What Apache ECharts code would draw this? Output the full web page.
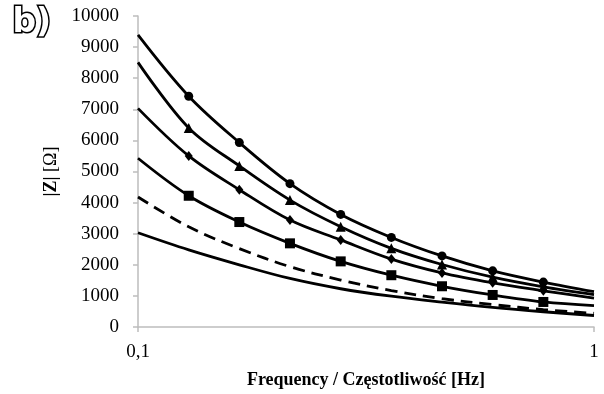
<!DOCTYPE html>
<html>
<head>
<meta charset="utf-8">
<script src="https://cdn.jsdelivr.net/npm/echarts@6/dist/echarts.min.js"></script>
<style>
  html, body { margin: 0; padding: 0; background: #fff; }
  #chart { width: 604px; height: 394px; }
</style>
</head>
<body>
<div id="chart"></div>
<script>
// Frequency points (Hz), log-spaced over one decade
const frequency = [0.1, 0.1292, 0.1668, 0.2154, 0.2783, 0.3594, 0.4642, 0.5995, 0.7743, 1];

// Impedance modulus |Z| in ohms for each curve
const zCircle   = [9390, 7420, 5930, 4610, 3620, 2880, 2285, 1805, 1445, 1135];
const zTriangle = [8510, 6400, 5180, 4080, 3225, 2530, 2010, 1600, 1290, 1040];
const zDiamond  = [7030, 5500, 4415, 3440, 2800, 2185, 1740, 1420, 1165, 930];
const zSquare   = [5425, 4220, 3375, 2690, 2110, 1665, 1310, 1030, 805, 690];
const zDashed   = [4180, 3220, 2520, 1940, 1510, 1170, 910, 720, 560, 440];
const zPlain    = [3030, 2480, 2000, 1560, 1230, 990, 800, 630, 490, 370];

const xTickLabels = { '0.1': '0,1', '1': '1' };
const yTicks = [0, 10000, 1000];

const serif = '"Liberation Serif", "Times New Roman", serif';

function pairs(ys) {
  return frequency.map((f, i) => [f, ys[i]]);
}

function curve(ys, symbol, size, dashed) {
  const last = ys.length - 1;
  return {
    type: 'line',
    data: pairs(ys),
    smooth: 0.35,
    symbol: (v, p) => (p.dataIndex === 0 || p.dataIndex === last) ? 'none' : symbol,
    symbolSize: size,
    showAllSymbol: true,
    lineStyle: { color: '#000', width: 2.8, type: dashed ? [12, 7] : 'solid' },
    itemStyle: { color: '#000' },
    emphasis: { disabled: true },
    animation: false,
    z: 3
  };
}

const chart = echarts.init(document.getElementById('chart'), null, { renderer: 'canvas' });
chart.setOption({
  backgroundColor: '#fff',
  animation: false,
  grid: { left: 138, right: 10, top: 16, bottom: 67, containLabel: false },
  xAxis: {
    type: 'log',
    logBase: 10,
    min: 0.1,
    max: 1,
    name: 'Frequency / Częstotliwość [Hz]',
    nameLocation: 'middle',
    nameGap: 44,
    nameTextStyle: { fontFamily: serif, fontWeight: 'bold', fontSize: 18, color: '#000' },
    axisLine: { show: true, lineStyle: { color: '#bdbdbd', width: 1.5 } },
    axisTick: { show: true, length: 5, lineStyle: { color: '#bdbdbd', width: 1.5 } },
    axisLabel: {
      margin: 16,
      fontFamily: serif, fontSize: 19, color: '#000',
      formatter: v => xTickLabels[String(+v.toFixed(3))] || ''
    },
    splitLine: { show: false }
  },
  yAxis: {
    type: 'value',
    min: yTicks[0],
    max: yTicks[1],
    interval: yTicks[2],
    name: '{b||Z|} [Ω]',
    nameLocation: 'middle',
    nameGap: 59,
    nameRotate: 90,
    nameTextStyle: {
      fontFamily: serif, fontSize: 18, color: '#000',
      rich: { b: { fontFamily: serif, fontSize: 18, fontWeight: 'bold', color: '#000' } }
    },
    axisLine: { show: true, lineStyle: { color: '#bdbdbd', width: 1.5 } },
    axisTick: { show: true, length: 5, lineStyle: { color: '#bdbdbd', width: 1.5 } },
    axisLabel: {
      margin: 19, fontFamily: serif, fontSize: 19, color: '#000',
      formatter: v => String(v)
    },
    splitLine: { show: false }
  },
  series: [
    curve(zCircle, 'circle', 9, false),
    curve(zTriangle, 'triangle', 10, false),
    curve(zDiamond, 'diamond', [8, 10], false),
    curve(zSquare, 'rect', 10, false),
    curve(zDashed, 'none', 0, true),
    curve(zPlain, 'none', 0, false)
  ],
  graphic: [{
    type: 'text',
    left: 11,
    top: 5,
    style: {
      text: 'b)',
      font: 'bold 33px "DejaVu Sans", sans-serif',
      fill: '#fff',
      stroke: '#000',
      lineWidth: 3
    }
  }]
});
</script>
</body>
</html>
